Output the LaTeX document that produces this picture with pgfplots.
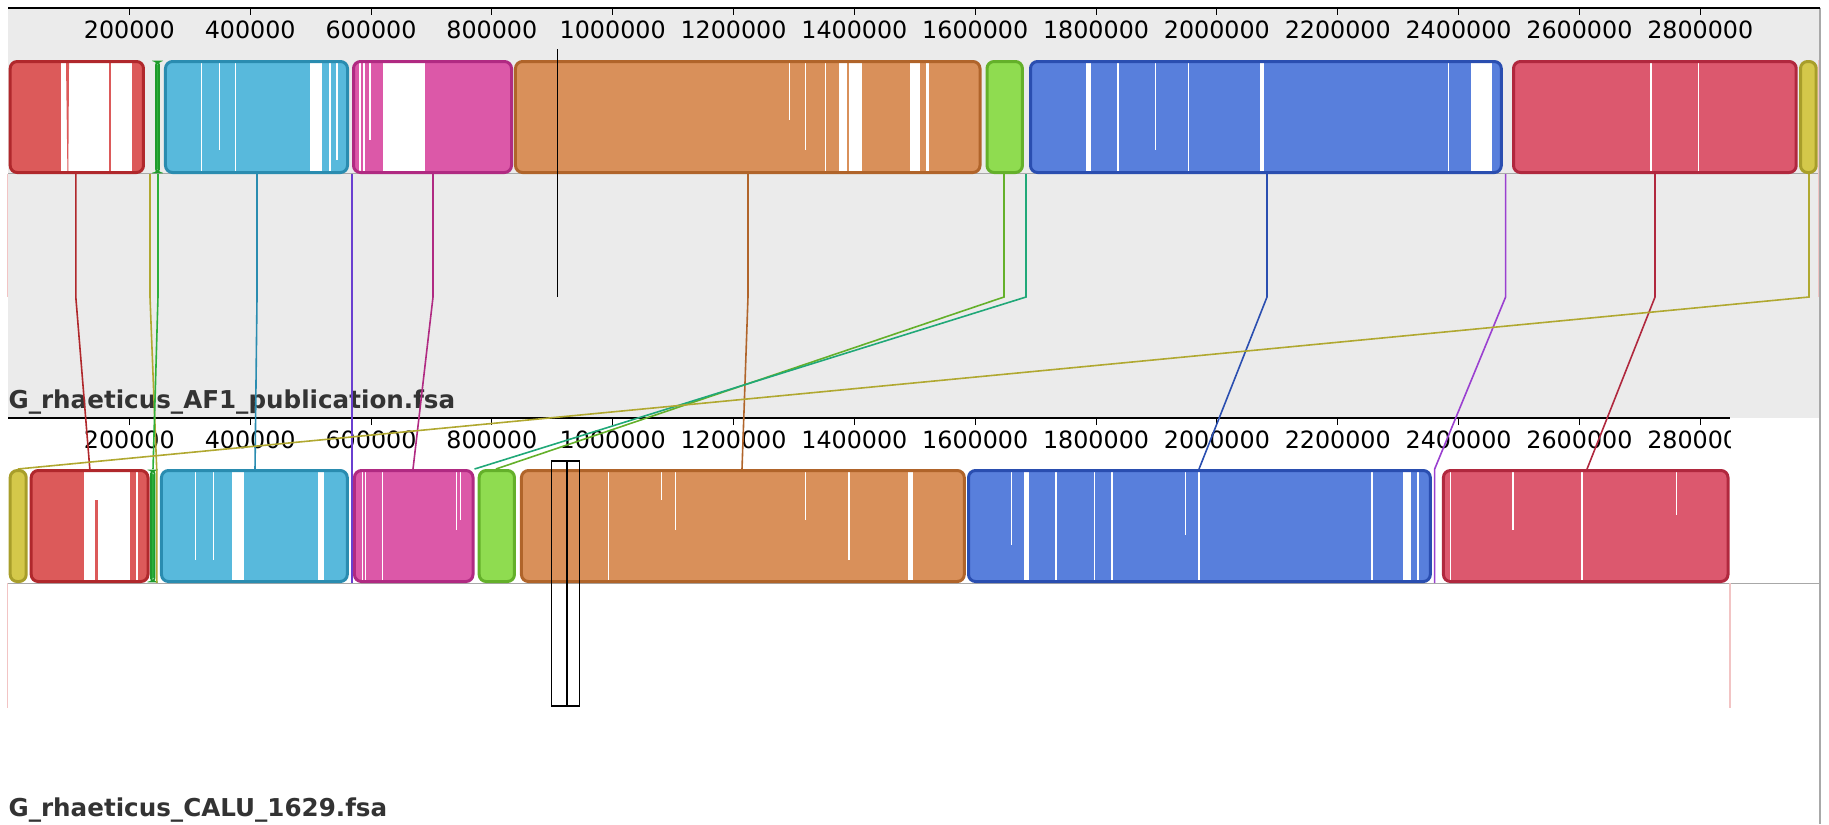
\documentclass[border=0pt]{standalone}
\usepackage{pgfplots}
\pgfplotsset{compat=1.18}
\usepackage{fontspec}
\setmainfont{DejaVu Sans}

% panel and frame colours
\definecolor{panel}{HTML}{EBEBEB}
\definecolor{frameline}{HTML}{A8A8A8}
\definecolor{endpink}{HTML}{F2C4C4}
\definecolor{namegray}{HTML}{333333}
% locally collinear blocks: fill / border
\definecolor{redF}{HTML}{DC5A5A}\definecolor{redD}{HTML}{B0282C}
\definecolor{cyanF}{HTML}{58B9DC}\definecolor{cyanD}{HTML}{2A8CB0}
\definecolor{magF}{HTML}{DC58A8}\definecolor{magD}{HTML}{B02A82}
\definecolor{oraF}{HTML}{D9905A}\definecolor{oraD}{HTML}{B0642A}
\definecolor{limF}{HTML}{8FDC50}\definecolor{limD}{HTML}{64B02A}
\definecolor{bluF}{HTML}{587FDC}\definecolor{bluD}{HTML}{2A4EB0}
\definecolor{crmF}{HTML}{DC586E}\definecolor{crmD}{HTML}{B0283E}
\definecolor{yelF}{HTML}{D4C84A}\definecolor{yelD}{HTML}{A89E2A}
\definecolor{grnF}{HTML}{2DB03A}\definecolor{grnD}{HTML}{1F9A2C}
\definecolor{violetA}{HTML}{6A3FD0}
\definecolor{violetB}{HTML}{9A40D0}
\definecolor{tealL}{HTML}{20A878}
\definecolor{oliveL}{HTML}{B0A830}

% x in bp, y in screen rows (downwards)
\pgfplotsset{
  frame/.style={scale only axis, width=914.5pt, height=412pt,
    xmin=-14068, xmax=3013073, ymin=0, ymax=824, y dir=reverse,
    hide axis, clip=false, anchor=north west, at={(0pt,0pt)}},
  ruler/.style={scale only axis, height=1pt, ymin=0, ymax=1, xmin=0,
    axis x line*=bottom, axis y line=none, anchor=south west,
    tick align=outside, major tick length=3.5pt,
    tick style={black, line width=0.5pt},
    x axis line style={-, black, line width=0.7pt},
    scaled x ticks=false,
    xtick={200000,400000,600000,800000,1000000,1200000,1400000,1600000,1800000,2000000,2200000,2400000,2600000,2800000},
    xticklabels={200000,400000,600000,800000,1000000,1200000,1400000,1600000,1800000,2000000,2200000,2400000,2600000,2800000},
    xticklabel style={font=\fontsize{11.9}{14}\selectfont, inner sep=0pt, yshift=-2.5pt}},
}

% block body, white low-similarity gaps, border
\newcommand{\blockfill}[5]{\addplot[fill=#1, draw=none, rounded corners=3.5pt] coordinates {(#2,#4) (#3,#4) (#3,#5) (#2,#5)} -- cycle;}
\newcommand{\blockedge}[5]{\addplot[draw=#1, line width=1.5pt, fill=none, rounded corners=3.5pt] coordinates {(#2,#4) (#3,#4) (#3,#5) (#2,#5)} -- cycle;}
\newcommand{\patch}[5]{\addplot[fill=#1, draw=none] coordinates {(#2,#4) (#3,#4) (#3,#5) (#2,#5)} -- cycle;}
\newcommand{\seam}[3]{\addplot[white, line width=0.6pt] coordinates {(#1,#2) (#1,#3)};}
\newcommand{\link}[4]{\addplot[#1, line width=0.8pt] coordinates {(#2,174) (#2,297) (#3,469) (#3,#4)};}

\begin{document}
\begin{tikzpicture}

% ---------- background ----------
\begin{axis}[frame]
  \addplot[draw=none] coordinates {(-14068,0) (3013073,824)};
  \addplot[fill=panel, draw=none] coordinates {(0,8) (2998180,8) (2998180,418) (0,418)} -- cycle;
  \addplot[frameline, line width=0.5pt] coordinates {(0,173.5) (2998180,173.5)};
  \addplot[frameline, line width=0.5pt] coordinates {(0,583) (2998180,583)};
  \addplot[frameline, line width=0.6pt] coordinates {(2998180,8) (2998180,824)};
  \addplot[endpink, line width=0.6pt] coordinates {(-1500,174) (-1500,297)};
  \addplot[endpink, line width=0.6pt] coordinates {(2996000,60) (2996000,297)};
  \addplot[endpink, line width=0.6pt] coordinates {(-1500,583) (-1500,708)};
  \addplot[endpink, line width=0.6pt] coordinates {(2849200,583) (2849200,708)};
  \node[anchor=base west, inner sep=0pt, font=\bfseries\fontsize{12.3}{14}\selectfont, text=namegray]
    at (axis cs:-500,408) {G\_rhaeticus\_AF1\_publication.fsa};
  \node[anchor=base west, inner sep=0pt, font=\bfseries\fontsize{12.3}{14}\selectfont, text=namegray]
    at (axis cs:-500,816) {G\_rhaeticus\_CALU\_1629.fsa};
\end{axis}

% ---------- coordinate rulers ----------
\begin{axis}[ruler, at={(4.25pt,-4pt)}, width=905.75pt, xmax=2998180]
  \addplot[draw=none] coordinates {(0,0) (1,1)};
\end{axis}
\begin{axis}[ruler, at={(4.25pt,-209pt)}, width=860.75pt, xmax=2849200]
  \addplot[draw=none] coordinates {(0,0) (1,1)};
\end{axis}

% ---------- blocks and connections ----------
\begin{axis}[frame]
  % ruler end
  \patch{white}{2850900}{2996500}{419}{466}

  % connecting lines (top genome -> bottom genome)
  \link{redD}{111400}{134600}{469}
  \link{oliveL}{234200}{245300}{583}
  \link{grnF}{247400}{239200}{469}
  \link{cyanD}{411300}{408000}{469}
  \link{violetA}{568500}{568500}{583}
  \link{magD}{702600}{669500}{469}
  \link{oraD}{1223900}{1214000}{469}
  \link{limD}{1647600}{806800}{469}
  \link{tealL}{1684100}{771300}{469}
  \link{bluD}{2082900}{1970400}{469}
  \link{violetB}{2477800}{2360400}{583}
  \link{crmD}{2725100}{2612600}{469}
  \link{oliveL}{2980000}{15400}{469}

  % ===== top genome =====
  \blockfill{redF}{2800}{223400}{61.5}{172.5}
  \patch{white}{87400}{205200}{63}{171}
  \addplot[fill=redF, draw=none] coordinates {(95200,63) (100200,63) (99000,171) (97500,171)} -- cycle;
  \patch{redF}{165800}{169100}{63}{171}
  \blockedge{redD}{2800}{223400}{61.5}{172.5}

  \blockfill{grnF}{244200}{249100}{61.5}{172.5}
  \addplot[draw=grnD, line width=0.8pt, fill=none, rounded corners=1.5pt] coordinates {(244200,61.5) (249100,61.5) (249100,172.5) (244200,172.5)} -- cycle;

  \blockfill{cyanF}{259840}{561070}{61.5}{172.5}
  \patch{white}{498300}{519400}{63}{171}
  \seam{319800}{63}{171}\seam{349200}{63}{150}\seam{375400}{63}{171}
  \seam{532100}{63}{171}\seam{543700}{63}{160}
  \blockedge{cyanD}{259840}{561070}{61.5}{172.5}

  \blockfill{magF}{571000}{832500}{61.5}{172.5}
  \patch{white}{619500}{689300}{63}{171}
  \seam{581800}{63}{171}\seam{588400}{63}{171}\seam{598300}{63}{140}
  \blockedge{magD}{571000}{832500}{61.5}{172.5}

  \blockfill{oraF}{839100}{1607900}{61.5}{172.5}
  \patch{white}{1374800}{1387900}{63}{171}
  \patch{white}{1391200}{1412200}{63}{171}
  \patch{white}{1492700}{1509100}{63}{171}
  \patch{white}{1519000}{1523600}{63}{171}
  \seam{1293100}{63}{120}\seam{1319300}{63}{150}\seam{1352000}{63}{171}
  \blockedge{oraD}{839100}{1607900}{61.5}{172.5}

  \blockfill{limF}{1619500}{1678100}{61.5}{172.5}
  \blockedge{limD}{1619500}{1678100}{61.5}{172.5}

  \blockfill{bluF}{1691500}{2470700}{61.5}{172.5}
  \patch{white}{1782700}{1792400}{63}{171}
  \patch{white}{2071700}{2078300}{63}{171}
  \patch{white}{2420300}{2455400}{63}{171}
  \seam{1836300}{63}{171}\seam{1898500}{63}{150}\seam{1952800}{63}{171}
  \seam{2383600}{63}{171}
  \blockedge{bluD}{1691500}{2470700}{61.5}{172.5}

  \blockfill{crmF}{2490900}{2958800}{61.5}{172.5}
  \seam{2718500}{63}{171}\seam{2796600}{63}{171}
  \blockedge{crmD}{2490900}{2958800}{61.5}{172.5}

  \blockfill{yelF}{2965900}{2991900}{61.5}{172.5}
  \blockedge{yelD}{2965900}{2991900}{61.5}{172.5}

  % ===== bottom genome =====
  \blockfill{yelF}{2800}{29300}{470.5}{581.5}
  \blockedge{yelD}{2800}{29300}{470.5}{581.5}

  \blockfill{redF}{37600}{230900}{470.5}{581.5}
  \patch{white}{124600}{201900}{472}{580}
  \patch{redF}{143200}{148100}{500}{580}
  \patch{white}{210400}{215000}{472}{580}
  \blockedge{redD}{37600}{230900}{470.5}{581.5}

  \blockfill{grnF}{235800}{241600}{470.5}{581.5}
  \addplot[draw=grnD, line width=0.8pt, fill=none, rounded corners=1.5pt] coordinates {(235800,470.5) (241600,470.5) (241600,581.5) (235800,581.5)} -- cycle;

  \blockfill{cyanF}{253200}{560700}{470.5}{581.5}
  \patch{white}{370700}{390400}{472}{580}
  \patch{white}{512700}{522500}{472}{580}
  \seam{310000}{472}{560}\seam{339300}{472}{560}
  \blockedge{cyanD}{253200}{560700}{470.5}{581.5}

  \blockfill{magF}{572600}{768800}{470.5}{581.5}
  \patch{white}{584700}{586700}{472}{580}
  \patch{white}{589200}{591200}{472}{580}
  \patch{white}{617500}{619500}{472}{580}
  \seam{742000}{472}{530}\seam{748000}{472}{520}
  \blockedge{magD}{572600}{768800}{470.5}{581.5}

  \blockfill{limF}{779000}{837400}{470.5}{581.5}
  \blockedge{limD}{779000}{837400}{470.5}{581.5}

  \blockfill{oraF}{849000}{1581900}{470.5}{581.5}
  \patch{white}{1489400}{1497300}{472}{580}
  \seam{993400}{472}{580}\seam{1080400}{472}{500}\seam{1103300}{472}{530}
  \seam{1319300}{472}{520}\seam{1391200}{472}{560}
  \blockedge{oraD}{849000}{1581900}{470.5}{581.5}

  \blockfill{bluF}{1588900}{2353200}{470.5}{581.5}
  \patch{white}{1680600}{1689000}{472}{580}
  \patch{white}{1731700}{1734900}{472}{580}
  \patch{white}{1795800}{1798300}{472}{580}
  \patch{white}{1825300}{1828600}{472}{580}
  \patch{white}{2254200}{2257500}{472}{580}
  \patch{white}{2307300}{2320600}{472}{580}
  \patch{white}{2330500}{2333800}{472}{580}
  \seam{1970300}{472}{580}\seam{1660000}{472}{545}\seam{1948000}{472}{535}
  \blockedge{bluD}{1588900}{2353200}{470.5}{581.5}

  \blockfill{crmF}{2374900}{2845900}{470.5}{581.5}
  \seam{2387000}{472}{580}\seam{2604100}{472}{580}
  \seam{2490000}{472}{530}\seam{2760000}{472}{515}
  \blockedge{crmD}{2374900}{2845900}{470.5}{581.5}

  % thin blocks drawn across the bands
  \addplot[violetA, line width=0.75pt] coordinates {(568500,469) (568500,583)};
  \addplot[violetB, line width=0.75pt] coordinates {(2360400,469) (2360400,583)};
  \addplot[oliveL, line width=0.75pt] coordinates {(245300,469) (245300,583)};

  % cursor marks
  \addplot[black, line width=0.6pt] coordinates {(908800,49) (908800,297)};
  \addplot[black, line width=0.6pt, fill=none] coordinates {(898900,461) (924300,461) (924300,706) (898900,706)} -- cycle;
  \addplot[black, line width=0.6pt, fill=none] coordinates {(924300,461) (945300,461) (945300,706) (924300,706)} -- cycle;
\end{axis}

\pgfresetboundingbox
\useasboundingbox (0pt,0pt) rectangle (914.5pt,-412pt);
\end{tikzpicture}
\end{document}
